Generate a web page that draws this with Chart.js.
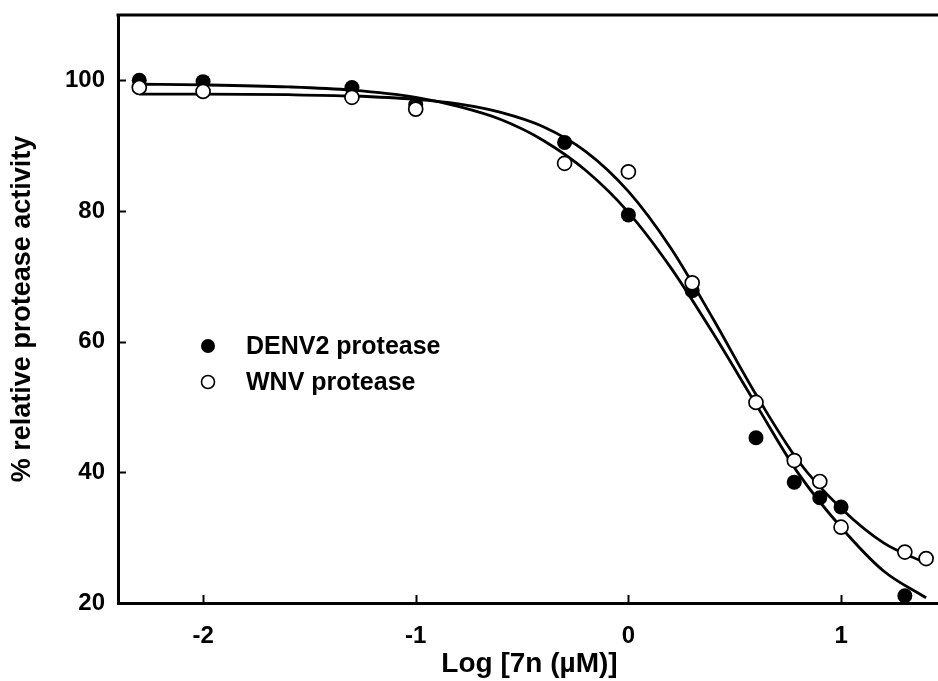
<!DOCTYPE html>
<html>
<head>
<meta charset="utf-8">
<title>7n inhibition of DENV2 / WNV protease</title>
<script src="https://cdn.jsdelivr.net/npm/chart.js@4.4.1/dist/chart.umd.min.js"></script>
<style>
  html, body { margin: 0; padding: 0; background: #fff; overflow: hidden; }
  #wrap { position: relative; width: 950px; height: 681px; }
</style>
</head>
<body>
<div id="wrap"><canvas id="ic50Chart"></canvas></div>
<script>
// measured points (log concentration vs % activity)
const denvDose = [-2.3, -2, -1.3, -1, -0.3, 0, 0.3, 0.6, 0.78, 0.9, 1.0, 1.3];
const denvActivity = [100, 99.8, 98.9, 96.3, 90.5, 79.4, 67.8, 45.3, 38.5, 36.1, 34.7, 21.1];
const wnvDose = [-2.3, -2, -1.3, -1, -0.3, 0, 0.3, 0.6, 0.78, 0.9, 1.0, 1.3, 1.4];
const wnvActivity = [98.9, 98.3, 97.4, 95.6, 87.3, 86.0, 69.0, 50.7, 41.8, 38.6, 31.6, 27.8, 26.8];

// fitted curves
const fitDose = [-2.3, -2, -1.6, -1.3, -1, -0.8, -0.6, -0.4, -0.2, 0, 0.2, 0.4, 0.6, 0.8, 1.0, 1.2, 1.4];
const denvFit = [99.4, 99.3, 99.0, 98.5, 97.4, 96.0, 94.0, 90.8, 86.2, 79.8, 71.3, 61.2, 50.4, 39.8, 31.6, 24.9, 20.8];
const wnvFit = [97.9, 97.9, 97.8, 97.6, 97.1, 96.4, 95.1, 92.9, 89.1, 83.0, 74.3, 63.4, 51.9, 41.7, 34.5, 29.2, 26.1];

const xTicks = [-2, -1, 0, 1];
const yTicks = [20, 40, 60, 80, 100];
const legendLabels = ['DENV2 protease', 'WNV protease'];

const FONT = '"Liberation Sans", Arial, Helvetica, sans-serif';

function toPoints(xs, ys) {
  return xs.map((x, i) => ({ x, y: ys[i] }));
}

// inside tick marks, top frame line and the floating legend
const framePlugin = {
  id: 'frame',
  afterDatasetsDraw(chart) {
    const { ctx, chartArea, scales } = chart;
    ctx.save();
    ctx.strokeStyle = '#000';
    ctx.lineWidth = 3;
    ctx.beginPath();
    ctx.moveTo(chartArea.left - 1.5, chartArea.top);
    ctx.lineTo(chartArea.right + 2, chartArea.top);
    ctx.stroke();

    ctx.lineWidth = 2;
    xTicks.forEach((v) => {
      const px = Math.round(scales.x.getPixelForValue(v)) + 0.5;
      ctx.beginPath();
      ctx.moveTo(px, chartArea.bottom);
      ctx.lineTo(px, chartArea.bottom - 8);
      ctx.stroke();
    });
    yTicks.forEach((v) => {
      const py = Math.round(scales.y.getPixelForValue(v)) + 0.5;
      ctx.beginPath();
      ctx.moveTo(chartArea.left, py);
      ctx.lineTo(chartArea.left + 8, py);
      ctx.stroke();
    });

    // legend
    const lx = 208;
    const rows = [346, 382];
    ctx.fillStyle = '#000';
    ctx.beginPath();
    ctx.arc(lx, rows[0], 7, 0, Math.PI * 2);
    ctx.fill();
    ctx.lineWidth = 1.6;
    ctx.beginPath();
    ctx.arc(lx, rows[1], 6.5, 0, Math.PI * 2);
    ctx.fillStyle = '#fff';
    ctx.fill();
    ctx.stroke();
    ctx.fillStyle = '#000';
    ctx.font = `bold 25px ${FONT}`;
    ctx.textBaseline = 'middle';
    ctx.textAlign = 'left';
    legendLabels.forEach((label, i) => ctx.fillText(label, 246, rows[i] + 1));
    ctx.restore();
  },
};

const context = document.getElementById('ic50Chart').getContext('2d');

new Chart(context, {
  type: 'scatter',
  data: {
    datasets: [
      {
        label: legendLabels[1],
        data: toPoints(wnvDose, wnvActivity),
        pointRadius: 7,
        pointBackgroundColor: '#fff',
        pointBorderColor: '#000',
        pointBorderWidth: 1.7,
        order: 0,
      },
      {
        label: legendLabels[0],
        data: toPoints(denvDose, denvActivity),
        pointRadius: 7.5,
        pointBackgroundColor: '#000',
        pointBorderColor: '#000',
        pointBorderWidth: 0,
        order: 1,
      },
      {
        type: 'line',
        label: 'DENV2 fit',
        data: toPoints(fitDose, denvFit),
        borderColor: '#000',
        borderWidth: 2.8,
        pointRadius: 0,
        cubicInterpolationMode: 'monotone',
        fill: false,
        order: 2,
      },
      {
        type: 'line',
        label: 'WNV fit',
        data: toPoints(fitDose, wnvFit),
        borderColor: '#000',
        borderWidth: 2.8,
        pointRadius: 0,
        cubicInterpolationMode: 'monotone',
        fill: false,
        order: 3,
      },
    ],
  },
  options: {
    responsive: true,
    maintainAspectRatio: false,
    animation: false,
    layout: { padding: { top: 15, right: 9, left: 0, bottom: 0 } },
    plugins: {
      legend: { display: false },
      tooltip: { enabled: false },
    },
    scales: {
      x: {
        type: 'linear',
        min: -2.4,
        max: 1.47,
        afterBuildTicks: (scale) => { scale.ticks = xTicks.map((value) => ({ value })); },
        afterFit: (scale) => {
          scale.height = 78;
          scale.paddingLeft = 0;
          scale.paddingRight = 0;
        },
        grid: { display: false, drawTicks: false },
        border: { display: true, color: '#000', width: 3 },
        ticks: {
          color: '#000',
          padding: 19,
          font: { family: FONT, size: 24, weight: 'bold' },
        },
        title: {
          display: true,
          text: 'Log [7n (\u00b5M)]',
          color: '#000',
          font: { family: FONT, size: 28, weight: 'bold' },
          padding: { top: 0, bottom: 0 },
        },
      },
      y: {
        type: 'linear',
        min: 20,
        max: 110,
        afterBuildTicks: (scale) => { scale.ticks = yTicks.map((value) => ({ value })); },
        afterFit: (scale) => {
          scale.width = 118;
          scale.paddingTop = 0;
          scale.paddingBottom = 0;
        },
        grid: { display: false, drawTicks: false },
        border: { display: true, color: '#000', width: 3 },
        ticks: {
          color: '#000',
          padding: 13,
          font: { family: FONT, size: 24, weight: 'bold' },
        },
        title: {
          display: true,
          text: '% relative protease activity',
          color: '#000',
          font: { family: FONT, size: 27, weight: 'bold' },
          padding: { top: 6, bottom: 0 },
        },
      },
    },
  },
  plugins: [framePlugin],
});
</script>
</body>
</html>
